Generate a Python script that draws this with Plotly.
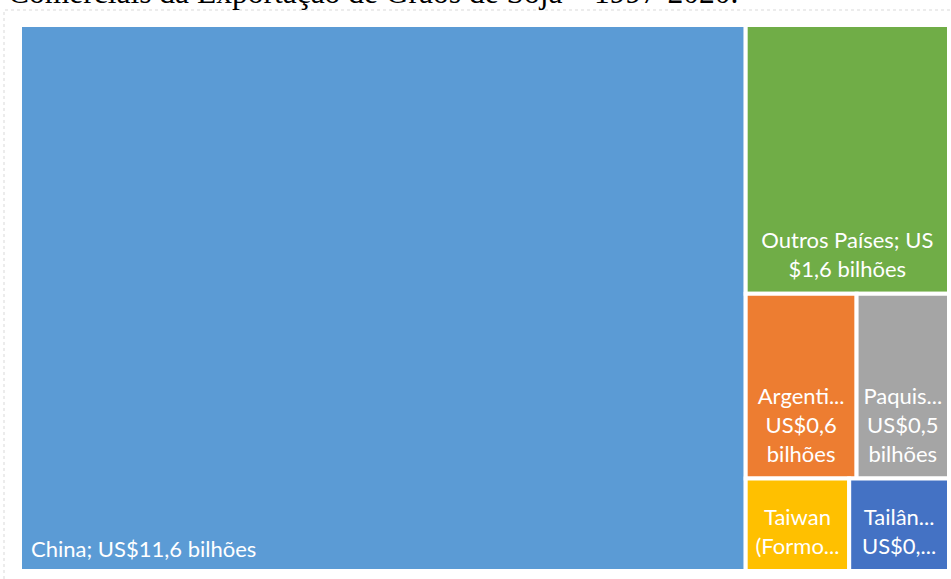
import plotly.graph_objects as go

W, H = 951, 579

# Export destinations of soybean grain, 1997-2020 (US$ billions)
countries = ["China", "Outros Países", "Argentina", "Paquistão",
             "Taiwan (Formosa)", "Tailândia"]
values = [11.6, 1.6, 0.6, 0.5, 0.28, 0.27]
tile_text = [
    "China; US$11,6 bilhões",
    "Outros Países; US<br>$1,6 bilhões",
    "Argenti...<br>US$0,6<br>bilhões",
    "Paquis...<br>US$0,5<br>bilhões",
    "Taiwan<br>(Formo...",
    "Tailân...<br>US$0,...",
]
colors = ["#5B9BD5", "#70AD47", "#ED7D31", "#A5A5A5", "#FFC000", "#4472C4"]
parents = [""] * len(countries)

title_text = "Comerciais da Exportação de Grãos de Soja – 1997-2020."

# Plot-area extent of the treemap, in pixels
X0, X1, Y0, Y1 = 20, 949, 25, 571


def domain(left=0, up=0):
    """Treemap domain in paper units; `left`/`up` inset the left and bottom edges."""
    return dict(x=[(X0 + left) / W, X1 / W],
                y=[1 - (Y1 - up) / H, 1 - (Y0 - up) / H])


label_font = dict(family="Lato, Carlito, sans-serif", size=22, color="white")
no_pad = dict(t=0, l=0, r=0, b=0)
clear = ["rgba(0,0,0,0)"] * len(countries)

common = dict(labels=countries, parents=parents, values=values,
              tiling=dict(packing="squarify", pad=0),
              pathbar=dict(visible=False), sort=True)

fig = go.Figure()
# Coloured tiles
fig.add_trace(go.Treemap(
    **common,
    textinfo="none",
    marker=dict(colors=colors, line=dict(color="white", width=4), pad=no_pad),
    domain=domain(),
    hoverinfo="label+value",
))
# Label layer for the large tile, inset from its bottom-left corner
fig.add_trace(go.Treemap(
    **common,
    text=[tile_text[0]] + [""] * (len(countries) - 1),
    textinfo="text",
    textposition="bottom left",
    textfont=label_font,
    marker=dict(colors=clear, line=dict(color="rgba(0,0,0,0)", width=4), pad=no_pad),
    domain=domain(left=8, up=6),
    hoverinfo="skip",
))
# Label layer for the remaining tiles, centred above the bottom edge
fig.add_trace(go.Treemap(
    **common,
    text=[""] + tile_text[1:],
    textinfo="text",
    textposition="bottom center",
    textfont=label_font,
    marker=dict(colors=clear, line=dict(color="rgba(0,0,0,0)", width=4), pad=no_pad),
    domain=domain(up=9),
    hoverinfo="skip",
))

fig.update_layout(
    width=W, height=H,
    margin=dict(l=0, r=0, t=0, b=0),
    paper_bgcolor="white",
    showlegend=False,
    shapes=[dict(type="rect", xref="paper", yref="paper",
                 x0=4 / W, x1=1.02, y0=-0.05, y1=1 - 10 / H,
                 line=dict(color="#D9D9D9", width=1, dash="dot"),
                 fillcolor="rgba(0,0,0,0)", layer="below")],
    annotations=[dict(text=title_text, xref="paper", yref="paper",
                      x=6 / W, y=1 - 12 / H, xanchor="left", yanchor="bottom",
                      showarrow=False,
                      font=dict(family="Liberation Serif, Times New Roman, serif",
                                size=31.5, color="black"))],
)

fig.write_html("out.html")
